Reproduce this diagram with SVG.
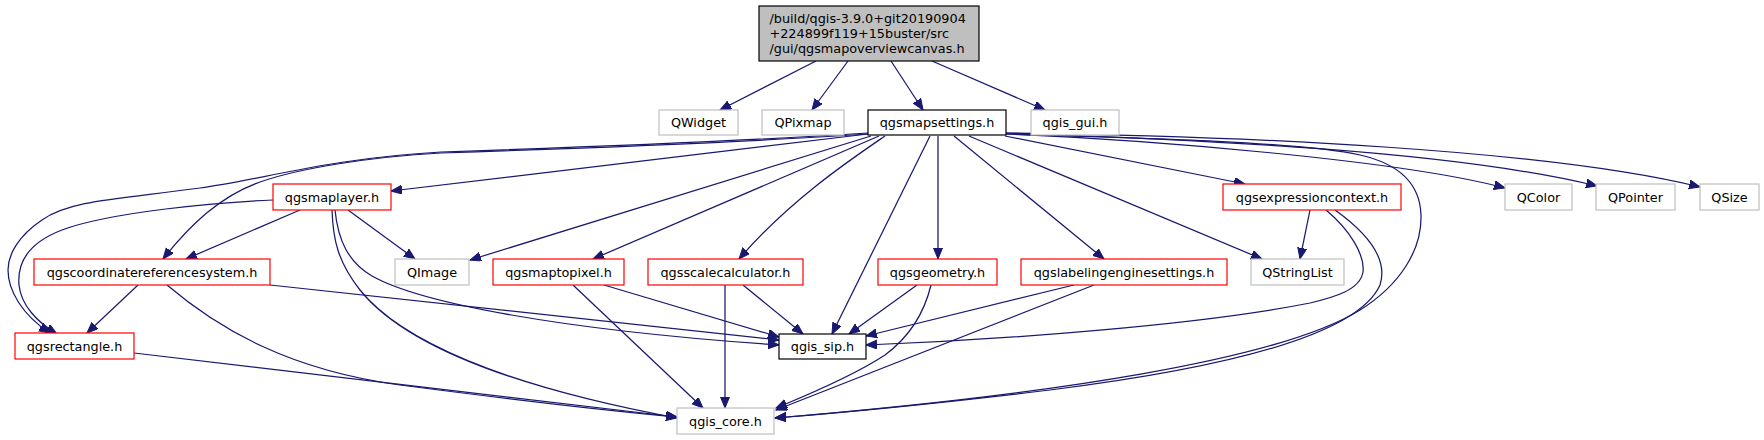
<svg xmlns="http://www.w3.org/2000/svg" width="1764" height="440" viewBox="0 0 1764 440">
<style>
.bx{fill:#fff;stroke-width:1.2}
.red{stroke:#ff0000}
.gray{stroke:#bfbfbf}
.blk{stroke:#000}
.t{font-family:"DejaVu Sans","Liberation Sans",sans-serif;font-size:12.8px;fill:#000;text-anchor:middle}
.tl{font-family:"DejaVu Sans","Liberation Sans",sans-serif;font-size:12.8px;fill:#000}
.e{fill:none;stroke:#191970;stroke-width:1.25;marker-end:url(#a)}
</style>
<defs>
<marker id="a" markerWidth="13" markerHeight="11" refX="11" refY="4.5" orient="auto" markerUnits="userSpaceOnUse">
<path d="M0,0 L11,4.5 L0,9 z" fill="#191970" stroke="#191970" stroke-width="1"/>
</marker>
</defs>
<rect width="1764" height="440" fill="#fff"/>
<g id="connectors">
<path class="e" d="M816,61 L720,110"/>
<path class="e" d="M848,61 L812,110"/>
<path class="e" d="M891,61 L923,110"/>
<path class="e" d="M932,61 L1045,110"/>
<path class="e" d="M868,133 C760,140 560,148 441,152 C330,158 260,180 200,188 C120,199 70,200 42,220 C18,236 8,255 8,270 C8,290 22,315 50,333"/>
<path class="e" d="M868,134 C750,142 560,149 441,153 C370,157 300,168 260,182 C220,196 190,225 163,259"/>
<path class="e" d="M868,134 L391,191"/>
<path class="e" d="M871,136 L470,260"/>
<path class="e" d="M879,136 L593,259"/>
<path class="e" d="M885,136 C850,160 790,200 739,259"/>
<path class="e" d="M930,136 L832,334"/>
<path class="e" d="M938,136 L938,259"/>
<path class="e" d="M954,136 L1104,259"/>
<path class="e" d="M969,136 L1262,259"/>
<path class="e" d="M1005,136 L1245,184"/>
<path class="e" d="M1006,134 C1150,138 1300,142 1360,155 C1400,164 1420,185 1421,215 C1422,250 1400,285 1360,310 C1280,360 1050,395 775,418"/>
<path class="e" d="M1006,134 C1150,140 1400,160 1505,188"/>
<path class="e" d="M1006,133 C1200,140 1450,150 1597,186"/>
<path class="e" d="M1006,133 C1250,136 1550,150 1700,187"/>
<path class="e" d="M300,210 L186,259"/>
<path class="e" d="M273,200 C220,202 110,212 62,230 C28,243 17,262 19,285 C21,305 37,322 57,334"/>
<path class="e" d="M348,210 L415,259"/>
<path class="e" d="M335,210 C338,240 348,262 372,276 C420,303 560,330 779,345"/>
<path class="e" d="M332,210 C333,240 338,262 360,290 C400,340 500,385 677,418"/>
<path class="e" d="M138,285 L87,333"/>
<path class="e" d="M270,285 L779,340"/>
<path class="e" d="M167,285 C220,330 290,370 400,385 C500,398 600,410 677,417"/>
<path class="e" d="M134,353 L677,417"/>
<path class="e" d="M604,285 L779,337"/>
<path class="e" d="M573,285 L703,408"/>
<path class="e" d="M725,285 L725,408"/>
<path class="e" d="M743,285 L803,334"/>
<path class="e" d="M917,285 L849,334"/>
<path class="e" d="M931,285 C925,310 912,335 885,355 C850,378 800,398 776,408"/>
<path class="e" d="M1074,285 L866,336"/>
<path class="e" d="M1094,285 L776,410"/>
<path class="e" d="M1310,210 L1300,259"/>
<path class="e" d="M1326,210 C1350,230 1365,255 1363,272 C1360,290 1335,297 1310,303 C1200,325 1000,340 866,345"/>
<path class="e" d="M1335,210 C1370,235 1388,260 1380,285 C1360,330 1250,365 1050,390 C950,402 850,412 775,418"/>
</g>
<g id="main">
<rect x="759" y="6" width="220" height="55" fill="#bfbfbf" stroke="#000" stroke-width="1.2"/>
<text class="tl" x="769.5" y="22.5">/build/qgis-3.9.0+git20190904</text>
<text class="tl" x="769.5" y="37.5">+224899f119+15buster/src</text>
<text class="tl" x="769.5" y="52.5">/gui/qgsmapoverviewcanvas.h</text>
</g>
<g id="QWidget"><rect class="bx gray" x="659" y="110" width="79" height="25"/><text class="t" x="698.5" y="127">QWidget</text></g>
<g id="QPixmap"><rect class="bx gray" x="762" y="110" width="82" height="25"/><text class="t" x="803" y="127">QPixmap</text></g>
<g id="qgsmapsettings"><rect class="bx blk" x="868" y="110" width="138" height="25"/><text class="t" x="937" y="127">qgsmapsettings.h</text></g>
<g id="qgis_gui"><rect class="bx gray" x="1031" y="110" width="88" height="25"/><text class="t" x="1075" y="127">qgis_gui.h</text></g>
<g id="qgsmaplayer"><rect class="bx red" x="273" y="184" width="118" height="26"/><text class="t" x="332" y="201.5">qgsmaplayer.h</text></g>
<g id="qgsexpressioncontext"><rect class="bx red" x="1223" y="184" width="178" height="26"/><text class="t" x="1312" y="201.5">qgsexpressioncontext.h</text></g>
<g id="QColor"><rect class="bx gray" x="1505" y="184" width="67" height="26"/><text class="t" x="1538.5" y="201.5">QColor</text></g>
<g id="QPointer"><rect class="bx gray" x="1596" y="184" width="79" height="26"/><text class="t" x="1635.5" y="201.5">QPointer</text></g>
<g id="QSize"><rect class="bx gray" x="1700" y="184" width="59" height="26"/><text class="t" x="1729.5" y="201.5">QSize</text></g>
<g id="qgscoordinatereferencesystem"><rect class="bx red" x="34" y="259" width="236" height="26"/><text class="t" x="152" y="276.5">qgscoordinatereferencesystem.h</text></g>
<g id="QImage"><rect class="bx gray" x="395" y="259" width="74" height="26"/><text class="t" x="432" y="276.5">QImage</text></g>
<g id="qgsmaptopixel"><rect class="bx red" x="493" y="259" width="131" height="26"/><text class="t" x="558.5" y="276.5">qgsmaptopixel.h</text></g>
<g id="qgsscalecalculator"><rect class="bx red" x="648" y="259" width="155" height="26"/><text class="t" x="725.5" y="276.5">qgsscalecalculator.h</text></g>
<g id="qgsgeometry"><rect class="bx red" x="878" y="259" width="119" height="26"/><text class="t" x="937.5" y="276.5">qgsgeometry.h</text></g>
<g id="qgslabelingenginesettings"><rect class="bx red" x="1021" y="259" width="206" height="26"/><text class="t" x="1124" y="276.5">qgslabelingenginesettings.h</text></g>
<g id="QStringList"><rect class="bx gray" x="1251" y="259" width="93" height="26"/><text class="t" x="1297.5" y="276.5">QStringList</text></g>
<g id="qgsrectangle"><rect class="bx red" x="15" y="333" width="119" height="26"/><text class="t" x="74.5" y="350.5">qgsrectangle.h</text></g>
<g id="qgis_sip"><rect class="bx blk" x="779" y="334" width="87" height="25"/><text class="t" x="822.5" y="351">qgis_sip.h</text></g>
<g id="qgis_core"><rect class="bx gray" x="677" y="408" width="97" height="26"/><text class="t" x="725.5" y="425.5">qgis_core.h</text></g>
</svg>
